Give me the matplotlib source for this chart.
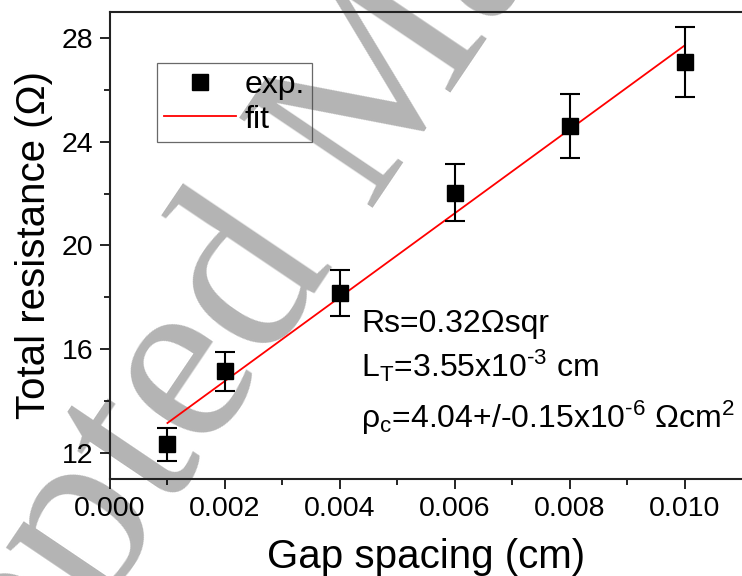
import matplotlib.pyplot as plt
import numpy as np

# data
gap = [0.001, 0.002, 0.004, 0.006, 0.008, 0.010]          # cm
resistance = [12.33, 15.15, 18.17, 22.04, 24.62, 27.06]   # Ohm
res_err = [0.63, 0.76, 0.90, 1.10, 1.23, 1.35]

xticks = [0.000, 0.002, 0.004, 0.006, 0.008, 0.010]
yticks = [12, 16, 20, 24, 28]

plt.rcParams['font.family'] = ['Liberation Sans', 'DejaVu Sans']
plt.rcParams['mathtext.fontset'] = 'custom'
plt.rcParams['mathtext.rm'] = 'Liberation Sans'
plt.rcParams['mathtext.it'] = 'Liberation Sans'

W, H, DPI = 742, 576, 100
fig = plt.figure(figsize=(W / DPI, H / DPI), dpi=DPI)
ax = fig.add_axes([0.1482, 0.1684, 0.852, 0.8108])
ax.set_facecolor('none')

# watermark behind everything, baseline starts off-canvas (pixels)
fig.text(-184.0 / W, -458.0 / H, 'Accepted Manuscript', fontsize=177,
         family='Liberation Serif', color='#b4b4b4', rotation=56,
         rotation_mode='anchor', ha='left', va='baseline', zorder=-1)

eb = ax.errorbar(gap, resistance, yerr=res_err, fmt='s', color='black',
                 ms=12, capsize=7, elinewidth=1.5, capthick=1.5, zorder=3)

p = np.poly1d(np.polyfit(gap, resistance, 1))
xf = np.array([gap[0], gap[-1]])
fit_line, = ax.plot(xf, p(xf), '-', color='red', lw=1.3, zorder=2)

ax.set_xlim(0, 0.011)
ax.set_ylim(11, 29)
ax.set_xticks(xticks)
ax.set_xticklabels(['{:.3f}'.format(v) for v in xticks])
ax.set_yticks(yticks)
ax.set_xticks(np.arange(0.001, 0.011, 0.002), minor=True)
ax.set_yticks([14, 18, 22, 26], minor=True)
ax.tick_params(which='major', direction='out', length=7, width=1.2,
               labelsize=20.5, pad=5)
ax.tick_params(which='minor', direction='out', length=4, width=1.2)

for s in ['left', 'top', 'bottom']:
    ax.spines[s].set_linewidth(1.5)
    ax.spines[s].set_color('#222222')
ax.spines['right'].set_visible(False)

ax.set_xlabel('Gap spacing (cm)', fontsize=29, labelpad=12)
ax.set_ylabel('Total resistance (Ω)', fontsize=29, labelpad=6)

leg = ax.legend([eb[0], fit_line], ['exp.', 'fit'], loc='upper left',
                bbox_to_anchor=(0.0738, 0.8914), borderaxespad=0,
                fontsize=23, fancybox=False, handlelength=2.26,
                handletextpad=0.28, labelspacing=0.15, borderpad=0.22)
leg.get_frame().set_facecolor('none')
leg.get_frame().set_edgecolor('#444444')
leg.get_frame().set_linewidth(0.9)

ax.text(0.00437, 16.68, 'Rs=0.32Ωsqr', fontsize=23)
ax.text(0.00437, 14.95, 'L$_\\mathrm{T}$=3.55x10$^{\\mathrm{‐3}}$ cm', fontsize=23)
ax.text(0.00437, 12.97, 'ρ$_\\mathrm{c}$=4.04+/-0.15x10$^{\\mathrm{‐6}}$ Ωcm$^\\mathrm{2}$',
        fontsize=23)

fig.savefig('out.png', dpi=DPI)
